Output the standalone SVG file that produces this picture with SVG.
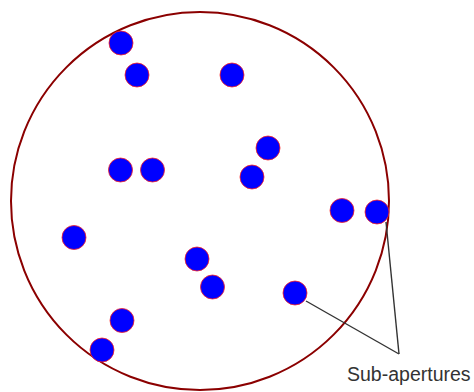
<svg xmlns="http://www.w3.org/2000/svg" width="474" height="392" viewBox="0 0 474 392">
<style>
.sub{fill:#0000ff;stroke:#ff2020;stroke-width:0.8}
.lead{stroke:#333;stroke-width:1.4;fill:none}
.lbl{font-family:"Liberation Sans",Arial,sans-serif;font-size:19.5px;fill:#333}
</style>
<rect width="474" height="392" fill="#fff"/>
<g id="aperture"><circle cx="200" cy="201" r="189" fill="none" stroke="#8b0000" stroke-width="2"/></g>
<g id="subapertures">
<circle id="s1" class="sub" cx="121" cy="43" r="12"/>
<circle id="s2" class="sub" cx="137" cy="75" r="12"/>
<circle id="s3" class="sub" cx="232" cy="75" r="12"/>
<circle id="s4" class="sub" cx="120.5" cy="170" r="12"/>
<circle id="s5" class="sub" cx="152.5" cy="170" r="12"/>
<circle id="s6" class="sub" cx="268" cy="148" r="12"/>
<circle id="s7" class="sub" cx="252" cy="177" r="12"/>
<circle id="s8" class="sub" cx="342" cy="210.5" r="12"/>
<circle id="s9" class="sub" cx="377" cy="212" r="12"/>
<circle id="s10" class="sub" cx="74" cy="237.5" r="12"/>
<circle id="s11" class="sub" cx="197" cy="259" r="12"/>
<circle id="s12" class="sub" cx="212.5" cy="287" r="12"/>
<circle id="s13" class="sub" cx="295" cy="293" r="12"/>
<circle id="s14" class="sub" cx="122" cy="320.5" r="12"/>
<circle id="s15" class="sub" cx="102" cy="350" r="12"/>
</g>
<g id="connectors">
<line class="lead" x1="306" y1="301" x2="399" y2="354"/>
<line class="lead" x1="386" y1="222" x2="399" y2="354"/>
</g>
<g id="label"><text class="lbl" x="347" y="381">Sub-apertures</text></g>
</svg>
